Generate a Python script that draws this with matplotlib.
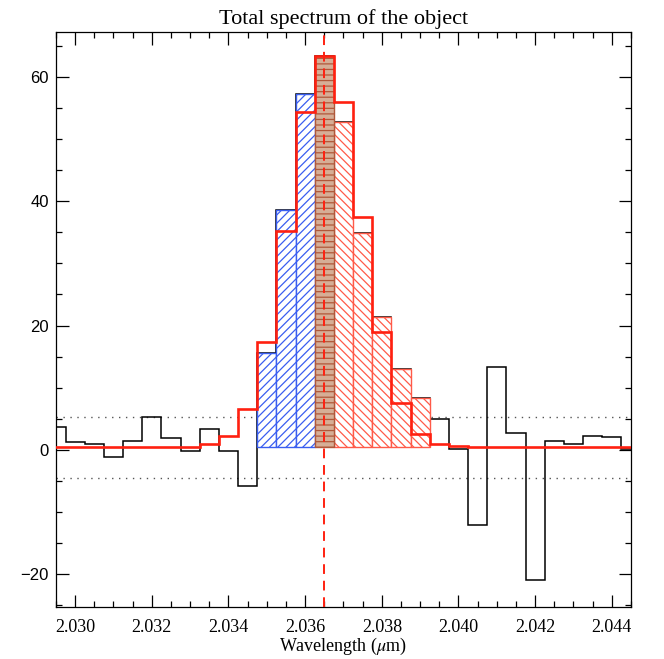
"""
Total spectrum of the object - IDL style histogram plot
"""

import matplotlib.pyplot as plt
import numpy as np

# bin centres (micron), bin width 0.0005
wavelength = [2.0295, 2.0300, 2.0305, 2.0310, 2.0315, 2.0320, 2.0325, 2.0330,
              2.0335, 2.0340, 2.0345, 2.0350, 2.0355, 2.0360, 2.0365, 2.0370,
              2.0375, 2.0380, 2.0385, 2.0390, 2.0395, 2.0400, 2.0405, 2.0410,
              2.0415, 2.0420, 2.0425, 2.0430, 2.0435, 2.0440, 2.0445]
bin_width = 0.0005

# observed spectrum (black)
flux = [3.65, 1.33, 0.92, -1.13, 1.45, 5.26, 1.88, -0.21,
        3.43, -0.11, -5.8, 15.65, 38.5, 57.3, 63.4, 52.8,
        34.85, 21.44, 12.98, 8.32, 4.94, 0.21, -12.15, 13.4,
        2.69, -20.96, 1.4, 0.92, 2.2, 2.04, 0.11]

# fitted model (red)
model = [0.5, 0.5, 0.5, 0.5, 0.5, 0.5, 0.5, 0.5,
         0.92, 2.3, 6.64, 17.37, 35.2, 54.4, 63.4, 56.0,
         37.4, 19.0, 7.5, 2.57, 0.97, 0.69, 0.48, 0.48,
         0.48, 0.48, 0.48, 0.48, 0.48, 0.48, 0.48]

continuum = 0.45
noise_upper = 5.35
noise_lower = -4.5
line_centre = 2.0365

# which bins are shaded
blue_bins = [2.0350, 2.0355, 2.0360]
centre_bins = [2.0365]
red_bins = [2.0370, 2.0375, 2.0380, 2.0385, 2.0390]

plt.rcParams['hatch.linewidth'] = 0.9
plt.rcParams['mathtext.fontset'] = 'stix'

wl = np.array(wavelength)
fl = np.array(flux)
edges = np.append(wl - bin_width / 2, wl[-1] + bin_width / 2)

fig = plt.figure(figsize=(6.64, 6.59), dpi=100)
ax = fig.add_axes([0.0843, 0.0796, 0.8660, 0.8718])

# black observed histogram
ax.stairs(fl, edges, color='black', linewidth=1.1, zorder=2)


def shaded(bins, **kw):
    idx = [int(np.argmin(np.abs(wl - b))) for b in bins]
    ax.bar(wl[idx], fl[idx] - continuum, width=bin_width, bottom=continuum,
           align='center', **kw)


# white face hides the black histogram under the hatching
shaded(blue_bins, facecolor='white', edgecolor='#3a5ef0', hatch='////',
       linewidth=1.0, zorder=3)
shaded(red_bins, facecolor='white', edgecolor='#ff5a48', hatch='\\\\\\\\',
       linewidth=1.0, zorder=3)
shaded(centre_bins, facecolor='#d6ae96', edgecolor='#b0583a', hatch='---',
       linewidth=1.0, zorder=3)

# model fit
ax.stairs(model, edges, color='#ff2010', linewidth=1.9, zorder=4)

# noise levels and line centre
ax.axhline(noise_upper, color='#555555', linestyle=(0, (1, 4)), linewidth=1.0, zorder=1)
ax.axhline(noise_lower, color='#555555', linestyle=(0, (1, 4)), linewidth=1.0, zorder=1)
ax.axvline(line_centre, color='#ff2010', linestyle=(0, (5, 3.5)), linewidth=1.4, zorder=5)

ax.set_xlim(2.0295, 2.0445)
ax.set_ylim(-25.2, 67.2)

ax.set_xticks([2.030, 2.032, 2.034, 2.036, 2.038, 2.040, 2.042, 2.044])
ax.set_xticks(np.arange(2.0295, 2.04451, 0.0005), minor=True)
ax.set_yticks([-20, 0, 20, 40, 60])
ax.set_yticks(np.arange(-25, 66, 5), minor=True)
ax.set_xticklabels(['2.030', '2.032', '2.034', '2.036', '2.038', '2.040', '2.042', '2.044'],
                   family='Liberation Serif', fontsize=13)
ax.set_yticklabels(['\u221220', '0', '20', '40', '60'], family='Liberation Sans', fontsize=12)

ax.tick_params(which='both', direction='in', top=True, right=True, width=0.9)
ax.tick_params(which='major', length=9)
ax.tick_params(which='minor', length=4)
ax.tick_params(axis='x', which='major', pad=9)
ax.tick_params(axis='y', which='major', pad=5)
for s in ax.spines.values():
    s.set_linewidth(0.9)

ax.set_title('Total spectrum of the object', family='Liberation Serif', fontsize=16, pad=6)
ax.set_xlabel(r'Wavelength ($\mu$m)', family='Liberation Serif', fontsize=13, labelpad=0)

fig.savefig('out.png', dpi=100)
plt.close()
